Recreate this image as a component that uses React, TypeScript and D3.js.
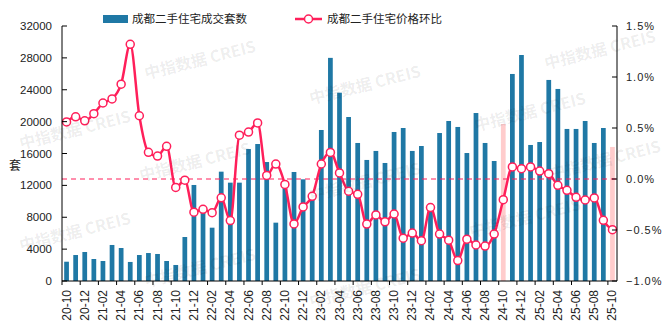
import React from "react";
import * as d3 from "d3";

const months = [
  "20-10","20-11","20-12","21-01","21-02","21-03","21-04","21-05","21-06","21-07","21-08","21-09",
  "21-10","21-11","21-12","22-01","22-02","22-03","22-04","22-05","22-06","22-07","22-08","22-09",
  "22-10","22-11","22-12","23-01","23-02","23-03","23-04","23-05","23-06","23-07","23-08","23-09",
  "23-10","23-11","23-12","24-01","24-02","24-03","24-04","24-05","24-06","24-07","24-08","24-09",
  "24-10","24-11","24-12","25-01","25-02","25-03","25-04","25-05","25-06","25-07","25-08","25-09",
  "25-10",
];

const volumes = [
  2420, 3260, 3640, 2760, 2510, 4520, 4140, 2390, 3260, 3510, 3390, 2510,
  2010, 5520, 12050, 8900, 6690, 13720, 12340, 12340, 16560, 17190, 14930, 7320,
  12000, 13680, 12760, 11000, 18950, 28000, 23630, 20580, 17320, 15190, 16320, 14810,
  18700, 19200, 16320, 16940, 9200, 18570, 20080, 19330, 16060, 21080, 17320, 15060,
  19700, 25980, 28360, 17070, 17440, 25230, 24100, 19080, 19080, 20080, 17320, 19200,
  16820,
];

const priceMoM = [
  0.56, 0.61, 0.57, 0.64, 0.745, 0.785, 0.93, 1.32, 0.62, 0.262, 0.225, 0.32,
  -0.083, -0.012, -0.325, -0.297, -0.33, -0.185, -0.408, 0.43, 0.46, 0.55, 0.035, 0.146,
  -0.053, -0.44, -0.274, -0.17, 0.147, 0.261, 0.06, -0.12, -0.15, -0.442, -0.352, -0.42,
  -0.343, -0.58, -0.53, -0.605, -0.28, -0.54, -0.6, -0.8, -0.59, -0.647, -0.658, -0.54,
  -0.203, 0.118, 0.101, 0.118, 0.078, 0.052, -0.062, -0.111, -0.18, -0.206, -0.186, -0.405,
  -0.497,
];

const highlightMonths = ["24-10", "25-10"];
const leftTicks = [0, 4000, 8000, 12000, 16000, 20000, 24000, 28000, 32000];
const rightTicks = [-1.0, -0.5, 0.0, 0.5, 1.0, 1.5];
const seriesNames = ["成都二手住宅成交套数", "成都二手住宅价格环比"];
const yTitle = "套";
const watermarkText = "中指数据 CREIS";

const BAR = "#1f78a5";
const PINK = "#ffcccc";
const LINE = "#ff1f5a";

const W = 672, H = 333;
const L = 62, R = 617, T = 26, B = 281;

const marks: [number, number][] = [
  [200, 60], [365, 85], [530, 112],
  [75, 130], [195, 162], [365, 182], [525, 218],
  [75, 232], [200, 268], [365, 288], [600, 50], [605, 160],
];

export default function App() {
  const x = d3.scaleBand<string>().domain(months).range([L, R]).paddingInner(0.48).paddingOuter(0.24);
  const yL = d3.scaleLinear().domain([0, 32000]).range([B, T]);
  const yR = d3.scaleLinear().domain([-1, 1.5]).range([B, T]);
  const bw = x.bandwidth();
  const cx = (m: string) => (x(m) as number) + bw / 2;
  const step = x.step();

  const lineGen = d3
    .line<number>()
    .x((_, i) => cx(months[i]))
    .y((d) => yR(d))
    .curve(d3.curveMonotoneX);

  const tickFont = "'Liberation Sans', Arial, sans-serif";
  const cjkFont = "'Noto Sans CJK SC', sans-serif";

  return (
    <svg width={W} height={H} style={{ position: "absolute", left: 0, top: 0, background: "#fff" }}>
      <rect x={0} y={0} width={W} height={H} fill="#fff" />
      {volumes.map((v, i) => (
        <rect
          key={"b" + i}
          x={x(months[i])}
          y={yL(v)}
          width={bw}
          height={B - yL(v)}
          fill={highlightMonths.includes(months[i]) ? PINK : BAR}
        />
      ))}
      <line x1={L} x2={R} y1={yR(0)} y2={yR(0)} stroke={LINE} strokeWidth={1} strokeDasharray="5,4" />
      <path d={lineGen(priceMoM) || ""} fill="none" stroke={LINE} strokeWidth={2.5} />
      {priceMoM.map((p, i) => (
        <circle key={"c" + i} cx={cx(months[i])} cy={yR(p)} r={4} fill="#fff" stroke={LINE} strokeWidth={1.5} />
      ))}
      <line x1={L} x2={L} y1={T} y2={B} stroke="#000" strokeWidth={1} />
      <line x1={R} x2={R} y1={T} y2={B} stroke="#000" strokeWidth={1} />
      <line x1={L} x2={R} y1={B} y2={B} stroke="#000" strokeWidth={1} />
      {leftTicks.map((t) => (
        <g key={"lt" + t}>
          <line x1={L} x2={L + 5} y1={yL(t)} y2={yL(t)} stroke="#000" />
          <text x={52} y={yL(t)} dy="0.35em" textAnchor="end" fontSize={11.5} fontFamily={tickFont} fill="#222">
            {t}
          </text>
        </g>
      ))}
      {rightTicks.map((t) => (
        <g key={"rt" + t}>
          <line x1={R - 5} x2={R} y1={yR(t)} y2={yR(t)} stroke="#000" />
          <text x={626} y={yR(t)} dy="0.35em" textAnchor="start" fontSize={11} fontFamily={tickFont} fill="#222" letterSpacing={1}>
            {(t < 0 ? "−" : "") + Math.abs(t).toFixed(1) + "%"}
          </text>
        </g>
      ))}
      {months.map((m, i) =>
        i % 2 === 0 ? (
          <g key={"xt" + m}>
            <line x1={x(m)! - (step - bw) / 2} x2={x(m)! - (step - bw) / 2} y1={B} y2={B + 4} stroke="#000" />
            <text
              transform={`translate(${cx(m) + 4},${B + 9}) rotate(-90)`}
              textAnchor="end"
              fontSize={12}
              fontFamily={tickFont}
              fill="#222"
            >
              {m}
            </text>
          </g>
        ) : null
      )}
      <text x={15} y={166} textAnchor="middle" fontSize={12} fontFamily={cjkFont} fill="#222" dy="0.35em">
        {yTitle}
      </text>
      <rect x={103} y={15} width={25} height={8} fill={BAR} />
      <text x={132} y={19} dy="0.35em" fontSize={11.5} fontFamily={cjkFont} fill="#222">
        {seriesNames[0]}
      </text>
      <line x1={295} x2={322} y1={19} y2={19} stroke={LINE} strokeWidth={2.5} />
      <circle cx={308.5} cy={19} r={4} fill="#fff" stroke={LINE} strokeWidth={1.5} />
      <text x={327} y={19} dy="0.35em" fontSize={11.5} fontFamily={cjkFont} fill="#222">
        {seriesNames[1]}
      </text>
      {marks.map(([mx, my], i) => (
        <text
          key={"w" + i}
          transform={`translate(${mx},${my}) rotate(-14)`}
          textAnchor="middle"
          dy="0.35em"
          fontSize={16}
          fontWeight="bold"
          fontFamily={cjkFont}
          fill="#000"
          fillOpacity={0.08}
        >
          {watermarkText}
        </text>
      ))}
    </svg>
  );
}
